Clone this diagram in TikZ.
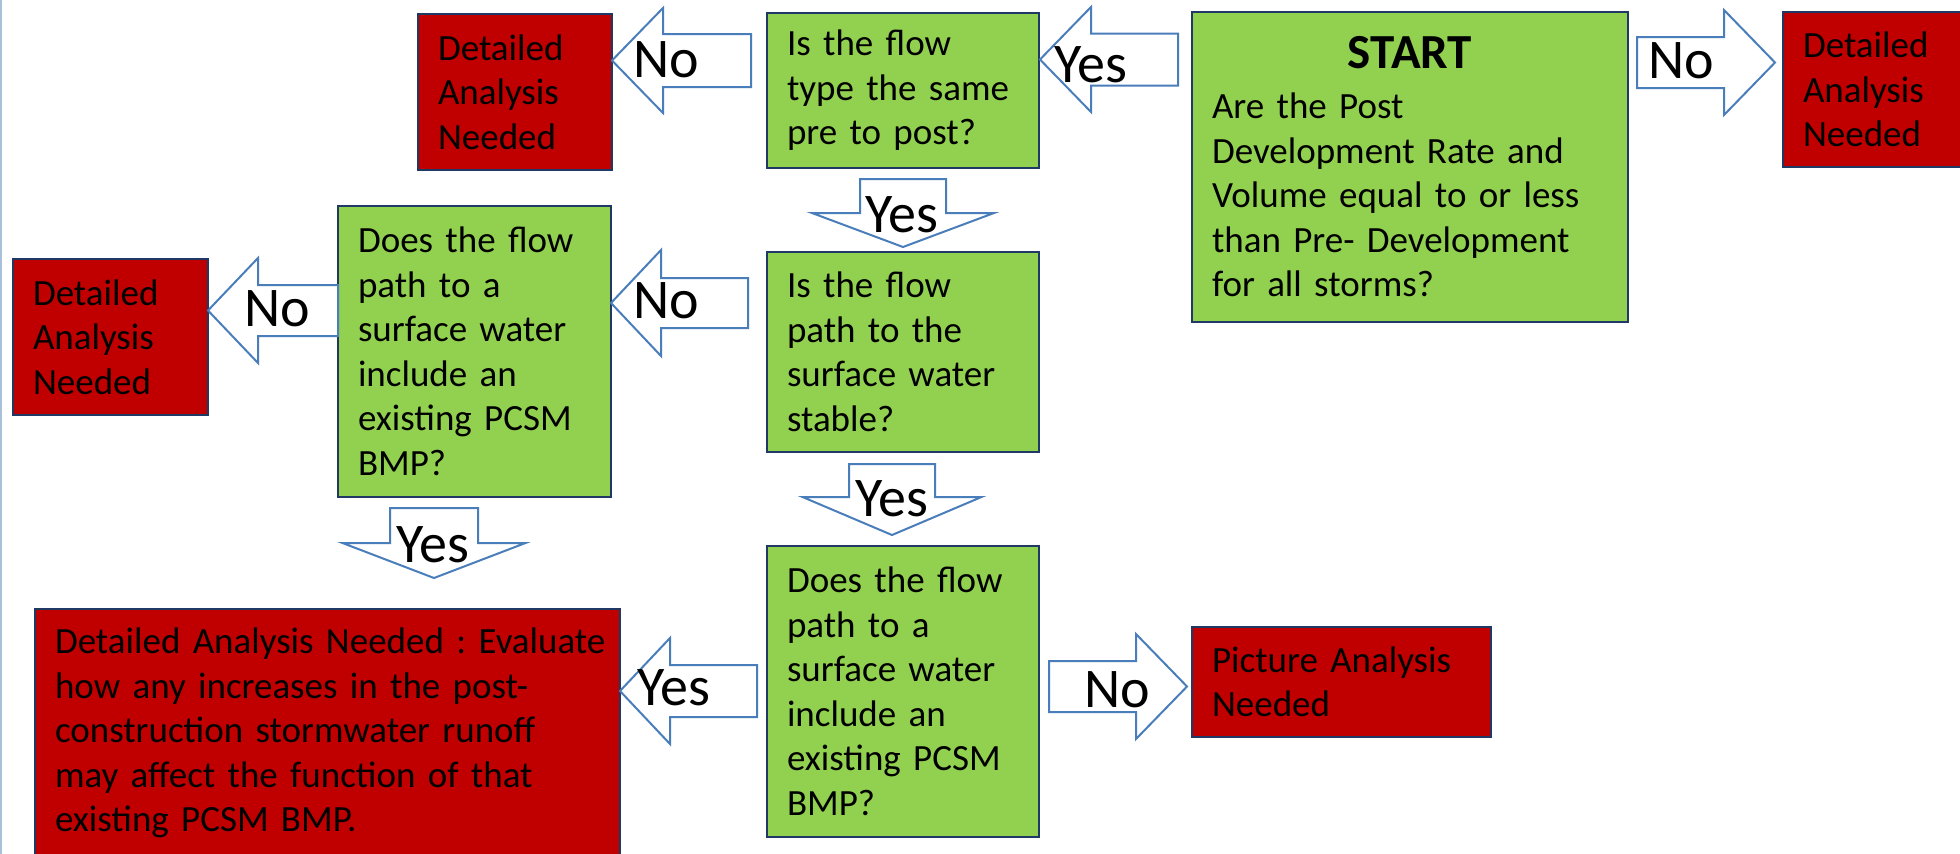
\documentclass[tikz,border=0pt]{standalone}
\usepackage{fontspec}
\setmainfont{Carlito}
\definecolor{lgreen}{HTML}{92D050}
\definecolor{dred}{HTML}{C00000}
\definecolor{navy}{HTML}{1F3864}
\definecolor{arrblue}{HTML}{4A7EBB}
\definecolor{edgeblue}{HTML}{A9C0DA}
\tikzset{
  box/.style={draw=navy, line width=2.5pt, rectangle, inner xsep=20pt, inner ysep=0pt,
    outer sep=0pt, align=left, anchor=north west, text=black,
    font=\fontsize{37}{44.5}\selectfont\frenchspacing},
  gbox/.style={box, fill=lgreen},
  rbox/.style={box, fill=dred},
  barrow/.style={draw=arrblue, fill=white, line width=2pt, line join=miter},
  lbl/.style={anchor=base west, inner sep=0pt, font=\fontsize{56}{60}\selectfont}
}
% horizontal block arrow: tip x, tip y, head base x, head half, shaft end x, shaft half
\newcommand\hblock[6]{\draw[barrow] (#1,#2) -- (#3,#2-#4) -- (#3,#2-#6) -- (#5,#2-#6)
  -- (#5,#2+#6) -- (#3,#2+#6) -- (#3,#2+#4) -- cycle;}
% vertical block arrow: tip x, tip y, head base y, head half, shaft end y, shaft half
\newcommand\vblock[6]{\draw[barrow] (#1,#2) -- (#1-#4,#3) -- (#1-#6,#3) -- (#1-#6,#5)
  -- (#1+#6,#5) -- (#1+#6,#3) -- (#1+#4,#3) -- cycle;}
\begin{document}
\begin{tikzpicture}[x=1pt,y=-1pt]
\useasboundingbox (0,0) rectangle (1960,854);
\clip (0,0) rectangle (1960,854);
\fill[white] (0,0) rectangle (1960,854);
\draw[edgeblue, line width=2pt] (1,0) -- (1,854);

% boxes
\node[rbox, text width=154pt, minimum height=156pt] (red1) at (418,14) {Detailed\\Analysis\\Needed};
\node[gbox, text width=232pt, minimum height=155pt] (g1) at (767,13) {Is the flow\\type the same\\pre to post?};
\node[gbox, text width=396pt, minimum height=310pt] (start) at (1192,12)
  {\makebox[396pt][c]{\fontsize{49}{50}\selectfont\bfseries START}\\[5.5pt]Are the Post\\Development Rate and\\Volume equal to or less\\than Pre- Development\\for all storms?};
\node[rbox, text width=160pt, minimum height=155pt] (red0) at (1783,12) {Detailed\\Analysis\\Needed};
\node[rbox, text width=155pt, minimum height=156pt] (red2) at (13,259) {Detailed\\Analysis\\Needed};
\node[gbox, text width=233pt, minimum height=291pt] (g2) at (338,206) {Does the flow\\path to a\\surface water\\include an\\existing PCSM\\BMP?};
\node[gbox, text width=232pt, minimum height=200pt] (g3) at (767,252) {Is the flow\\path to the\\surface water\\stable?};
\node[rbox, text width=545pt, minimum height=248pt] (red3) at (35,609) {\mbox{Detailed Analysis Needed : Evaluate}\\\mbox{how any increases in the post-}\\\mbox{construction stormwater runoff}\\\mbox{may affect the function of that}\\\mbox{existing PCSM BMP.}};
\node[gbox, text width=232pt, minimum height=291pt] (g4) at (767,546) {Does the flow\\path to a\\surface water\\include an\\existing PCSM\\BMP?};
\node[rbox, text width=259pt, minimum height=110pt] (red4) at (1192,627) {Picture Analysis\\Needed};

% block arrows
\hblock{612}{60.5}{663}{52.5}{751}{26.5}
\hblock{1040}{59.5}{1091}{52.5}{1178}{26}
\hblock{1775}{62.5}{1724}{52.5}{1637}{25.5}
\vblock{903}{247}{213}{91}{179}{43}
\hblock{611}{303}{661}{53}{748}{25}
\hblock{208}{310.5}{258}{52.5}{338}{25.5}
\vblock{892}{535}{497}{89.5}{464}{43}
\vblock{434}{578}{543}{91.5}{508}{44}
\hblock{620}{691}{670}{53}{757}{26}
\hblock{1187}{686.5}{1136}{52.5}{1049}{25.5}

% arrow labels
\node[lbl] (l1) at (633,77) {No};
\node[lbl] (l2) at (1054,82) {Yes};
\node[lbl] (l3) at (1648,78) {No};
\node[lbl] (l4) at (865,232) {Yes};
\node[lbl] (l5) at (633,318) {No};
\node[lbl] (l6) at (244,326) {No};
\node[lbl] (l7) at (855,516) {Yes};
\node[lbl] (l8) at (396,562) {Yes};
\node[lbl] (l9) at (637,705) {Yes};
\node[lbl] (l10) at (1084,707) {No};
\end{tikzpicture}
\end{document}
